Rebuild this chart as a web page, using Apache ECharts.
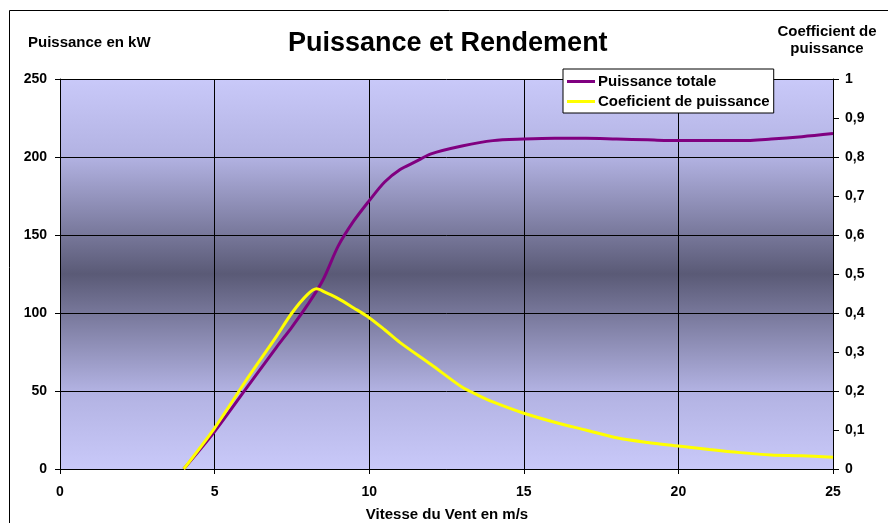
<!DOCTYPE html>
<html>
<head>
<meta charset="utf-8">
<script src="https://cdn.jsdelivr.net/npm/echarts@6/dist/echarts.min.js"></script>
<style>
html,body{margin:0;padding:0;background:#fff;}
#c{width:888px;height:523px;}
</style>
</head>
<body>
<div id="c"></div>
<script>
// Data
const titleText = 'Puissance et Rendement';
const seriesNames = ['Puissance totale', 'Coeficient de puissance'];
const windSpeedP = [4, 5, 6, 7, 7.5, 8, 8.5, 9, 9.5, 10, 10.5, 11, 11.5, 12, 13, 14, 15, 16, 17, 18, 19, 20, 21, 22, 23, 24, 25];
const powerKW    = [0, 24, 51, 78, 91, 105, 121, 143, 159, 172, 184, 192, 197, 202, 207, 210.5, 211.5, 212, 212, 211.5, 211, 210.5, 210.5, 210.5, 211.5, 213, 215];
const windSpeedC = [4, 5, 6, 7, 7.5, 8, 8.3, 8.6, 9, 9.5, 10, 10.5, 11, 12, 13, 13.5, 14, 15, 16, 17, 18, 19, 20, 21, 22, 23, 24, 25];
const coefP      = [0, 0.105, 0.225, 0.34, 0.40, 0.447, 0.462, 0.452, 0.437, 0.413, 0.388, 0.357, 0.324, 0.268, 0.21, 0.19, 0.172, 0.143, 0.12, 0.10, 0.08, 0.068, 0.059, 0.05, 0.042, 0.036, 0.034, 0.03];
const xTicks = {min: 0, max: 25, interval: 5};
const leftTicks = {min: 0, max: 250, interval: 50};
const rightTicks = {min: 0, max: 1, interval: 0.1};

const FONT = 'Arial, "Liberation Sans", sans-serif';
const chart = echarts.init(document.getElementById('c'), null, {renderer: 'canvas'});
const lab = {color: '#000', fontWeight: 'bold', fontSize: 14, fontFamily: FONT};

chart.setOption({
  animation: false,
  backgroundColor: '#fff',
  title: {
    text: titleText, left: 283, top: 25,
    textStyle: {fontSize: 27, fontWeight: 'bold', color: '#000', fontFamily: FONT}
  },
  graphic: [
    {type: 'rect', shape: {x: 9.5, y: 10.5, width: 900, height: 600}, style: {fill: 'none', stroke: '#000', lineWidth: 1}, z: -1},
    {type: 'text', left: 28, top: 35, style: {text: 'Puissance en kW', font: 'bold 15px ' + FONT, fill: '#000'}},
    {type: 'text', x: 827, y: 23, style: {text: 'Coefficient de\npuissance', font: 'bold 15px ' + FONT, fill: '#000', textAlign: 'center', lineHeight: 17}},
    {type: 'text', x: 447, y: 507, style: {text: 'Vitesse du Vent en m/s', font: 'bold 15px ' + FONT, fill: '#000', textAlign: 'center'}}
  ],
  legend: {
    orient: 'vertical', left: 563, top: 69,
    data: seriesNames.map(n => ({name: n, icon: 'rect'})),
    itemWidth: 28, itemHeight: 3, itemGap: 5,
    padding: [5, 4, 4, 4],
    backgroundColor: '#fff', borderColor: '#000', borderWidth: 1, borderRadius: 0,
    textStyle: {color: '#000', fontWeight: 'bold', fontSize: 15, fontFamily: FONT, padding: [0, 0, 0, -2]}
  },
  grid: {
    left: 60, right: 55, top: 79, bottom: 54,
    show: true, borderWidth: 0,
    backgroundColor: new echarts.graphic.LinearGradient(0, 0, 0, 1, [
      {offset: 0, color: '#c9c9f9'},
      {offset: 0.2, color: '#b2b2e2'},
      {offset: 0.5, color: '#5a5a76'},
      {offset: 0.8, color: '#b2b2e2'},
      {offset: 1, color: '#c9c9f9'}
    ])
  },
  xAxis: {
    type: 'value', min: xTicks.min, max: xTicks.max, interval: xTicks.interval,
    axisLine: {show: true, onZero: false, lineStyle: {color: '#000', width: 1}},
    axisTick: {show: true, length: 5, lineStyle: {color: '#000'}},
    axisLabel: Object.assign({margin: 16}, lab),
    splitLine: {show: true, lineStyle: {color: '#000', width: 1}}
  },
  yAxis: [
    {
      type: 'value', min: leftTicks.min, max: leftTicks.max, interval: leftTicks.interval,
      axisLine: {show: true, lineStyle: {color: '#000', width: 1}},
      axisTick: {show: true, length: 5, lineStyle: {color: '#000'}},
      axisLabel: Object.assign({margin: 13}, lab),
      splitLine: {show: true, lineStyle: {color: '#000', width: 1}}
    },
    {
      type: 'value', position: 'right', min: rightTicks.min, max: rightTicks.max, interval: rightTicks.interval,
      axisLine: {show: true, lineStyle: {color: '#000', width: 1}},
      axisTick: {show: true, length: 6, lineStyle: {color: '#000'}},
      axisLabel: Object.assign({margin: 12, formatter: v => String(Math.round(v * 10) / 10).replace('.', ',')}, lab),
      splitLine: {show: false}
    }
  ],
  series: [
    {
      name: seriesNames[0], type: 'line', yAxisIndex: 0, smooth: 0.3, showSymbol: false,
      lineStyle: {color: '#800080', width: 3}, itemStyle: {color: '#800080'},
      data: windSpeedP.map((x, i) => [x, powerKW[i]]), z: 3
    },
    {
      name: seriesNames[1], type: 'line', yAxisIndex: 1, smooth: 0.3, showSymbol: false,
      lineStyle: {color: '#ffff00', width: 3}, itemStyle: {color: '#ffff00'},
      data: windSpeedC.map((x, i) => [x, coefP[i]]), z: 4
    }
  ]
});
</script>
</body>
</html>
